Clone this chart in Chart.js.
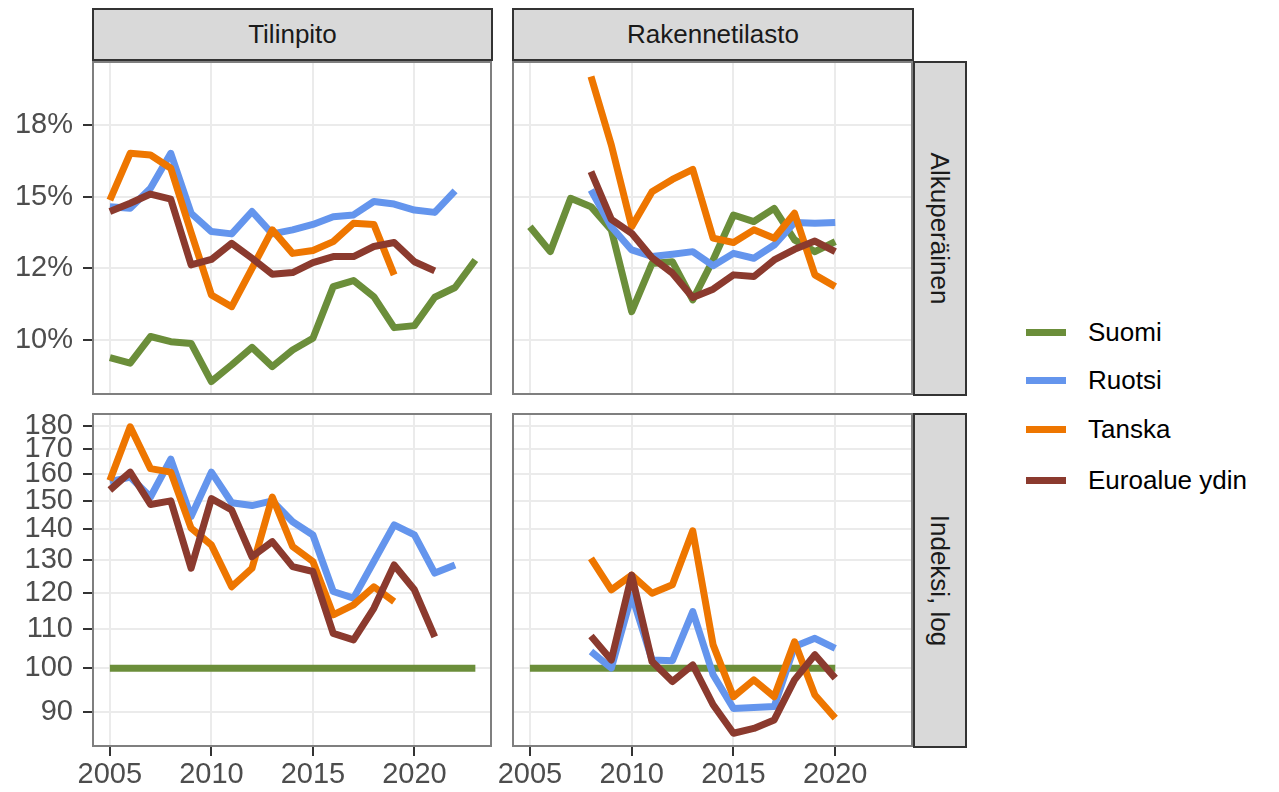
<!DOCTYPE html>
<html>
<head>
<meta charset="utf-8">
<script src="https://cdn.jsdelivr.net/npm/chart.js@4"></script>
<style>
  body { margin: 0; background: #fff; font-family: "Liberation Sans", Arial, sans-serif; }
  #wrap { position: relative; width: 1279px; height: 792px; overflow: hidden; }
  canvas { position: absolute; }
  .strip { position: absolute; background: #d9d9d9; border: 2px solid #333; box-sizing: border-box;
           color: #1a1a1a; font-size: 26px; display: flex; align-items: center; justify-content: center; }
  .vtext { transform: rotate(90deg); white-space: nowrap; }
  .key { position: absolute; left: 1026px; width: 40px; height: 7px; }
  .lab { position: absolute; left: 1088px; font-size: 26px; color: #000; line-height: 30px; }
</style>
</head>
<body>
<div id="wrap">
  <div class="strip" style="left:92px;top:8px;width:401px;height:53px;">Tilinpito</div>
  <div class="strip" style="left:512px;top:8px;width:402px;height:53px;">Rakennetilasto</div>
  <div class="strip" style="left:913px;top:61px;width:54px;height:335px;"><span class="vtext">Alkuperäinen</span></div>
  <div class="strip" style="left:913px;top:413px;width:54px;height:335px;"><span class="vtext">Indeksi, log</span></div>

  <canvas id="tl" width="492" height="334" style="left:0;top:61px;"></canvas>
  <canvas id="tr" width="416" height="334" style="left:497px;top:61px;"></canvas>
  <canvas id="bl" width="492" height="379" style="left:0;top:413px;"></canvas>
  <canvas id="br" width="416" height="379" style="left:497px;top:413px;"></canvas>

  <div id="legend"></div>
</div>
<script>
// years on the x axis
const years = [2005, 2006, 2007, 2008, 2009, 2010, 2011, 2012, 2013, 2014, 2015, 2016, 2017, 2018, 2019, 2020, 2021, 2022, 2023];
const xTicks = [2005, 2010, 2015, 2020];

const seriesNames = ['Suomi', 'Ruotsi', 'Tanska', 'Euroalue ydin'];
const seriesColors = ['#6b8e3a', '#6495ed', '#ee7600', '#8b3a2e'];

// Alkuperäinen (%) ticks
const pctTickValues = [10, 12.5, 15, 17.5];
const pctTickLabels = ['10%', '12%', '15%', '18%'];
// Indeksi, log ticks
const logTickValues = [90, 100, 110, 120, 130, 140, 150, 160, 170, 180];

// Tilinpito, Alkuperäinen
const suomiTilAlku  = [9.38, 9.19, 10.12, 9.94, 9.88, 8.55, 9.13, 9.74, 9.07, 9.65, 10.06, 11.86, 12.07, 11.51, 10.43, 10.5, 11.49, 11.83, 12.79];
const ruotsiTilAlku = [14.65, 14.59, 15.29, 16.51, 14.42, 13.78, 13.7, 14.48, 13.7, 13.84, 14.03, 14.3, 14.36, 14.83, 14.74, 14.53, 14.45, 15.2, null];
const tanskaTilAlku = [14.88, 16.51, 16.45, 15.99, 13.75, 11.57, 11.16, 12.5, 13.84, 13.02, 13.12, 13.43, 14.07, 14.03, 12.27, null, null, null, null];
const euroTilAlku   = [14.48, 14.77, 15.09, 14.91, 12.62, 12.81, 13.37, 12.85, 12.29, 12.35, 12.7, 12.91, 12.91, 13.26, 13.4, 12.73, 12.41, null, null];

// Rakennetilasto, Alkuperäinen
const suomiRakAlku  = [13.95, 13.08, 14.94, 14.65, 13.84, 10.99, 12.67, 12.73, 11.4, 12.79, 14.36, 14.13, 14.59, 13.49, 13.08, 13.43];
const ruotsiRakAlku = [null, null, null, 15.23, 13.95, 13.14, 12.91, 12.99, 13.08, 12.59, 13.02, 12.85, 13.31, 14.1, 14.07, 14.1];
const tanskaRakAlku = [null, null, null, 19.19, 16.8, 13.95, 15.17, 15.6, 15.95, 13.55, 13.4, 13.84, 13.55, 14.42, 12.27, 11.86];
const euroRakAlku   = [null, null, null, 15.87, 14.21, 13.72, 12.87, 12.33, 11.48, 11.77, 12.27, 12.21, 12.79, 13.16, 13.45, 13.08];

// Tilinpito, Indeksi
const suomiTilInd  = [100, 100, 100, 100, 100, 100, 100, 100, 100, 100, 100, 100, 100, 100, 100, 100, 100, 100, 100];
const ruotsiTilInd = [157.1, 158.9, 151.4, 166.0, 144.4, 160.8, 149.3, 148.3, 150.0, 142.6, 138.1, 120.4, 118.5, 129.5, 141.5, 138.1, 125.9, 128.4, null];
const tanskaTilInd = [157.6, 179.5, 162.2, 160.8, 140.4, 134.8, 121.8, 127.4, 151.4, 134.3, 129.5, 113.8, 116.6, 121.8, 117.5, null, null, null, null];
const euroTilInd   = [154.0, 160.8, 148.7, 150.0, 127.4, 150.8, 146.7, 131.0, 135.9, 127.9, 126.4, 108.8, 107.1, 115.6, 128.4, 120.9, 107.9, null, null];

// Rakennetilasto, Indeksi
const suomiRakInd  = [100, 100, 100, 100, 100, 100, 100, 100, 100, 100, 100, 100, 100, 100, 100, 100];
const ruotsiRakInd = [null, null, null, 104.1, 100.0, 119.4, 102.0, 101.8, 114.7, 98.4, 90.7, 90.9, 91.1, 105.4, 107.5, 104.9];
const tanskaRakInd = [null, null, null, 130.5, 120.9, 125.3, 119.9, 122.4, 139.5, 105.8, 93.3, 97.2, 93.3, 106.6, 93.7, 88.6];
const euroRakInd   = [null, null, null, 108.1, 102.0, 125.3, 101.6, 96.8, 100.8, 91.5, 85.4, 86.4, 88.2, 97.2, 103.3, 97.6];

const tickFont = { family: '"Liberation Sans", Arial, sans-serif', size: 29 };
const gridColor = '#ebebeb';

// draws the grey box round each panel
const panelBox = {
    id: 'panelBox',
    afterDraw(chart) {
        const a = chart.chartArea;
        const ctx = chart.ctx;
        ctx.save();
        ctx.strokeStyle = '#7f7f7f';
        ctx.lineWidth = 2;
        ctx.strokeRect(a.left + 1, a.top + 1, a.right - a.left - 2, a.bottom - a.top - 2);
        ctx.restore();
    }
};

function makeDatasets(lists) {
    return lists.map((vals, i) => ({
        label: seriesNames[i],
        data: vals.map((v, j) => ({ x: years[j], y: v })),
        borderColor: seriesColors[i],
        backgroundColor: seriesColors[i],
        borderWidth: 7,
        borderJoinStyle: 'round',
        borderCapStyle: 'butt',
        pointRadius: 0,
        fill: false,
        tension: 0,
        spanGaps: false,
        order: 3 - i
    }));
}

function makePanel(id, lists, opts) {
    const ctx = document.getElementById(id).getContext('2d');
    const yScale = opts.log ? {
        type: 'logarithmic',
        min: 82.6,
        max: 185.6,
        afterBuildTicks: s => { s.ticks = logTickValues.map(v => ({ value: v })); },
        ticks: { display: opts.left, color: '#4d4d4d', font: tickFont, padding: 10, autoSkip: false,
                 callback: v => String(v) }
    } : {
        type: 'linear',
        min: 8.08,
        max: 19.73,
        afterBuildTicks: s => { s.ticks = pctTickValues.map(v => ({ value: v })); },
        ticks: { display: opts.left, color: '#4d4d4d', font: tickFont, padding: 10, autoSkip: false,
                 callback: v => pctTickLabels[pctTickValues.indexOf(v)] }
    };
    yScale.grid = { color: gridColor, lineWidth: 2, drawTicks: opts.left, tickColor: '#333', tickLength: 9, tickWidth: 2 };
    yScale.border = { display: false };
    yScale.afterFit = s => { s.width = opts.left ? 92 : 15; s.paddingTop = 0; s.paddingBottom = 0; };

    return new Chart(ctx, {
        type: 'line',
        data: { datasets: makeDatasets(lists) },
        options: {
            responsive: false,
            animation: false,
            layout: { padding: 0, autoPadding: false },
            scales: {
                x: {
                    type: 'linear',
                    min: 2004.12,
                    max: 2023.82,
                    afterBuildTicks: s => { s.ticks = xTicks.map(v => ({ value: v })); },
                    ticks: { display: opts.bottom, color: '#4d4d4d', font: tickFont, padding: 2, autoSkip: false,
                             maxRotation: 0, callback: v => String(v) },
                    grid: { color: gridColor, lineWidth: 2, drawTicks: opts.bottom, tickColor: '#333', tickLength: 9, tickWidth: 2 },
                    border: { display: false },
                    afterFit: s => { s.height = opts.bottom ? 45 : 0; s.paddingLeft = 0; s.paddingRight = 0; }
                },
                y: yScale
            },
            plugins: {
                legend: { display: false },
                tooltip: { enabled: false }
            }
        },
        plugins: [panelBox]
    });
}

makePanel('tl', [suomiTilAlku, ruotsiTilAlku, tanskaTilAlku, euroTilAlku], { left: true, bottom: false, log: false });
makePanel('tr', [suomiRakAlku, ruotsiRakAlku, tanskaRakAlku, euroRakAlku], { left: false, bottom: false, log: false });
makePanel('bl', [suomiTilInd, ruotsiTilInd, tanskaTilInd, euroTilInd], { left: true, bottom: true, log: true });
makePanel('br', [suomiRakInd, ruotsiRakInd, tanskaRakInd, euroRakInd], { left: false, bottom: true, log: true });

// legend on the right
const legend = document.getElementById('legend');
const keyTops = [332, 380, 429, 480];
seriesNames.forEach((name, i) => {
    const k = document.createElement('div');
    k.className = 'key';
    k.style.top = (keyTops[i] - 3.5) + 'px';
    k.style.background = seriesColors[i];
    legend.appendChild(k);
    const l = document.createElement('div');
    l.className = 'lab';
    l.style.top = (keyTops[i] - 15) + 'px';
    l.textContent = name;
    legend.appendChild(l);
});
</script>
</body>
</html>
